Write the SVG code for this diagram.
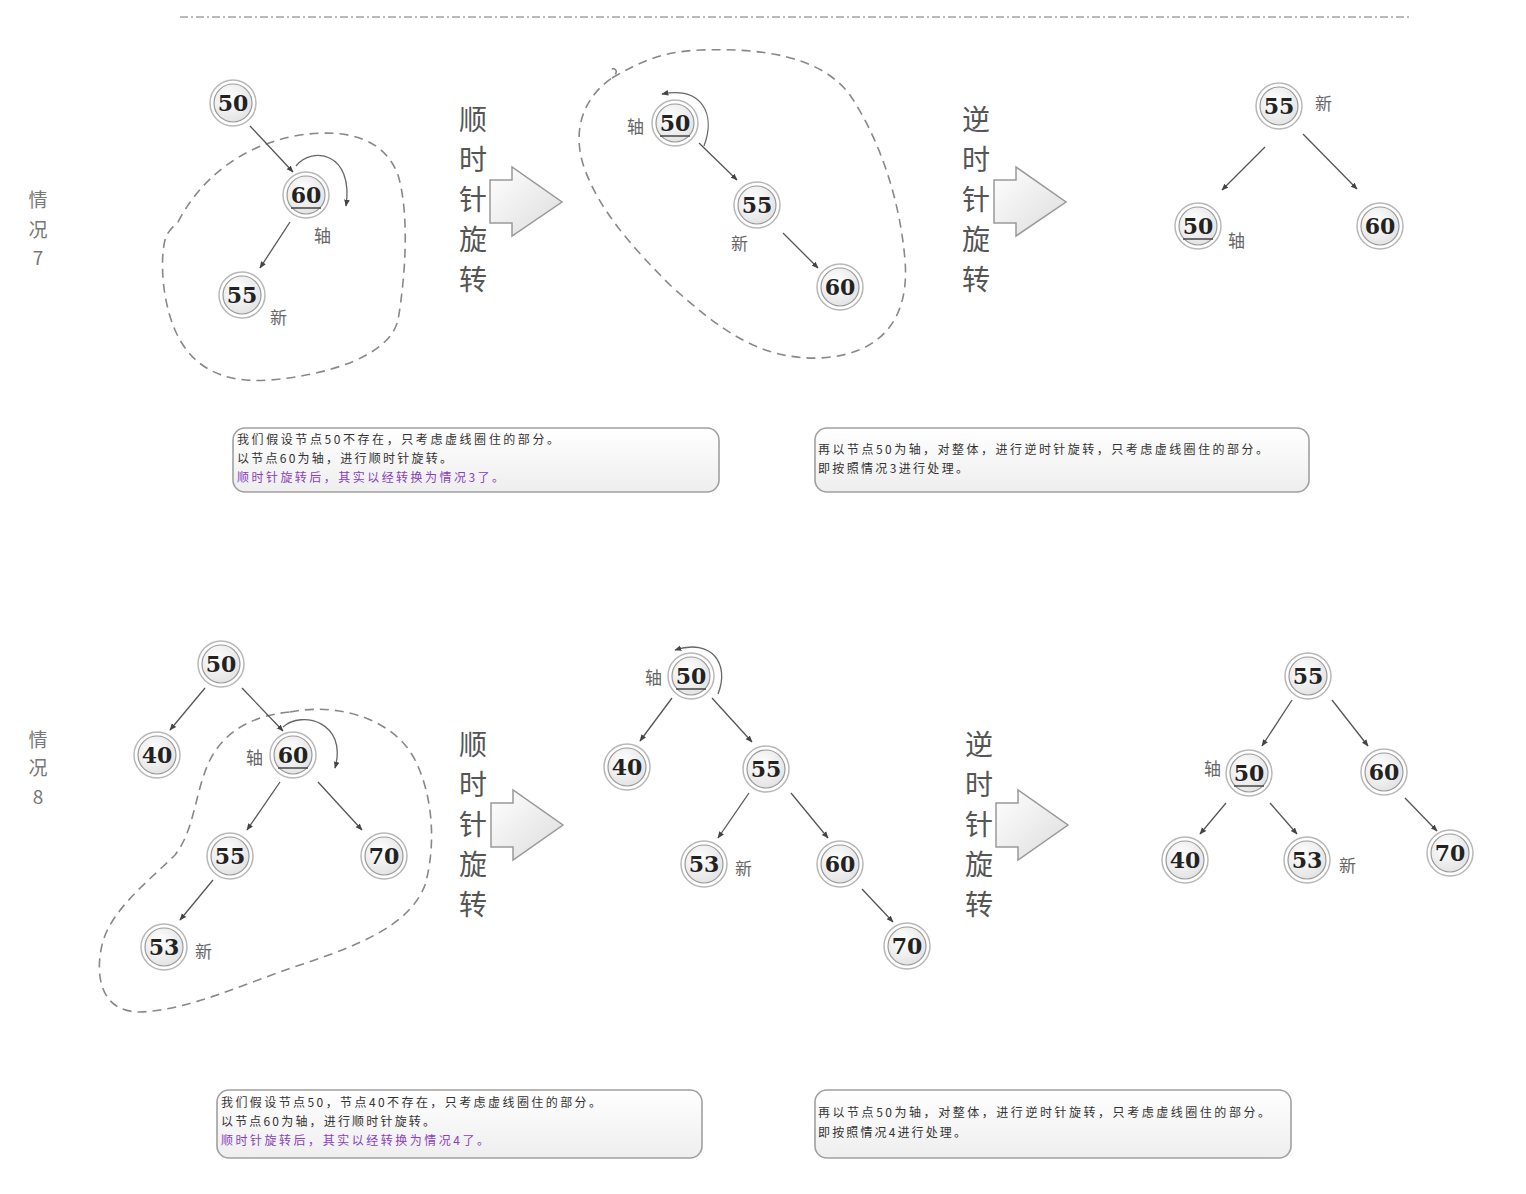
<svg xmlns="http://www.w3.org/2000/svg" width="1526" height="1194" viewBox="0 0 1526 1194">
<defs>
<radialGradient id="ng" cx="40%" cy="35%" r="70%">
<stop offset="0" stop-color="#ffffff"/>
<stop offset="1" stop-color="#e2e2e2"/>
</radialGradient>
<linearGradient id="bg" x1="0" y1="0" x2="0" y2="1">
<stop offset="0" stop-color="#ffffff"/>
<stop offset="1" stop-color="#eeeeee"/>
</linearGradient>
<linearGradient id="ag" x1="0" y1="0" x2="1" y2="1">
<stop offset="0" stop-color="#ffffff"/>
<stop offset="1" stop-color="#dcdcdc"/>
</linearGradient>
<marker id="ah" viewBox="0 0 10 10" refX="9" refY="5" markerWidth="7" markerHeight="7" orient="auto" markerUnits="userSpaceOnUse">
<path d="M0,1 L10,5 L0,9 Z" fill="#444"/>
</marker>
</defs>
<style>
.ring{fill:#fff;stroke:#b8b8b8;stroke-width:1.5}
.core{fill:url(#ng);stroke:#9a9a9a;stroke-width:1.2}
.num{font-family:"DejaVu Serif","Liberation Serif",serif;font-weight:bold;font-size:22px;fill:#222;text-anchor:middle}
.ul{stroke:#444;stroke-width:1.5}
.edge{stroke:#555;stroke-width:1.3;fill:none;marker-end:url(#ah)}
.rot{stroke:#666;stroke-width:1.3;fill:none;marker-end:url(#ah)}
.blob{fill:none;stroke:#888;stroke-width:1.6;stroke-dasharray:9 6}
.lbl{font-family:"Noto Sans CJK SC","Noto Sans",sans-serif;font-size:17px;fill:#666}
.vt{font-family:"Noto Sans CJK SC","Noto Sans",sans-serif;font-size:28px;fill:#555;text-anchor:middle}
.case{font-family:"Noto Sans CJK SC","Noto Sans",sans-serif;font-size:19px;fill:#777;text-anchor:middle}
.box{fill:url(#bg);stroke:#a0a0a0;stroke-width:1.6}
.bt{font-family:"Noto Sans CJK SC","Noto Sans",sans-serif;font-size:12px;fill:#333}
.bp{font-family:"Noto Sans CJK SC","Noto Sans",sans-serif;font-size:12px;fill:#8a3fc0}
.barrow{fill:url(#ag);stroke:#999;stroke-width:1.5}
.sep{stroke:#bbb;stroke-width:2;stroke-dasharray:8 3 2 3}
</style>

<line class="sep" x1="180" y1="17" x2="1410" y2="17"/>

<!-- case labels -->
<g id="case7-label"><text class="case" x="38" y="207">情</text><text class="case" x="38" y="237">况</text><text class="case" x="38" y="265">7</text></g>
<g id="case8-label"><text class="case" x="38" y="747">情</text><text class="case" x="38" y="775">况</text><text class="case" x="38" y="804">8</text></g>

<!-- dashed regions -->
<g id="regions">
<path class="blob" d="M178 222 C200 180 240 145 300 135 C350 128 385 140 398 175 C410 215 405 280 398 320 C390 355 330 375 270 380 C220 384 190 365 175 330 C162 300 160 260 165 240 C168 230 174 226 178 222"/>
<path class="blob" d="M612 78 C640 62 660 52 700 50 C760 48 820 55 850 95 C880 140 900 200 905 260 C910 320 880 355 820 358 C760 360 720 330 670 285 C630 245 600 210 585 170 C572 135 580 100 612 78 C620 72 615 66 610 70"/>
<path class="blob" d="M290 712 C340 702 395 720 415 760 C435 800 435 850 425 885 C410 925 360 945 300 965 C240 985 190 1010 140 1012 C100 1012 95 975 102 945 C110 910 150 880 175 855 C195 830 195 790 210 760 C225 730 255 715 290 712"/>
</g>

<!-- connectors -->
<g id="connectors">
<line class="edge" x1="250" y1="126" x2="293" y2="172"/>
<line class="edge" x1="290" y1="222" x2="260" y2="268"/>
<path class="rot" d="M296 166 C312 146 354 152 346 206"/>
<line class="edge" x1="699" y1="143" x2="737" y2="180"/>
<line class="edge" x1="783" y1="233" x2="818" y2="268"/>
<path class="rot" d="M704 146 C716 114 702 86 662 94"/>
<line class="edge" x1="1265" y1="147" x2="1222" y2="190"/>
<line class="edge" x1="1303" y1="134" x2="1357" y2="189"/>

<line class="edge" x1="205" y1="688" x2="170" y2="730"/>
<line class="edge" x1="242" y1="688" x2="283" y2="731"/>
<line class="edge" x1="280" y1="782" x2="247" y2="830"/>
<line class="edge" x1="318" y1="782" x2="362" y2="830"/>
<line class="edge" x1="213" y1="880" x2="180" y2="920"/>
<path class="rot" d="M283 727 C302 710 348 722 335 768"/>

<line class="edge" x1="672" y1="698" x2="640" y2="741"/>
<line class="edge" x1="712" y1="698" x2="752" y2="742"/>
<line class="edge" x1="749" y1="793" x2="718" y2="838"/>
<line class="edge" x1="791" y1="793" x2="828" y2="838"/>
<line class="edge" x1="862" y1="889" x2="893" y2="922"/>
<path class="rot" d="M718 694 C730 664 712 638 675 650"/>

<line class="edge" x1="1292" y1="700" x2="1262" y2="746"/>
<line class="edge" x1="1332" y1="700" x2="1368" y2="746"/>
<line class="edge" x1="1226" y1="803" x2="1200" y2="834"/>
<line class="edge" x1="1270" y1="803" x2="1297" y2="834"/>
<line class="edge" x1="1405" y1="798" x2="1437" y2="831"/>
</g>

<!-- nodes case 7 -->
<g id="n7a-50"><circle class="ring" cx="233" cy="103" r="23"/><circle class="core" cx="233" cy="103" r="19"/><text class="num" x="233" y="111">50</text></g>
<g id="n7a-60"><circle class="ring" cx="306" cy="195" r="23"/><circle class="core" cx="306" cy="195" r="19"/><text class="num" x="306" y="203">60</text><line class="ul" x1="291" y1="208" x2="321" y2="208"/><text class="lbl" x="314" y="242">轴</text></g>
<g id="n7a-55"><circle class="ring" cx="242" cy="295" r="23"/><circle class="core" cx="242" cy="295" r="19"/><text class="num" x="242" y="303">55</text><text class="lbl" x="270" y="324">新</text></g>

<g id="n7b-50"><circle class="ring" cx="675" cy="123" r="23"/><circle class="core" cx="675" cy="123" r="19"/><text class="num" x="675" y="131">50</text><line class="ul" x1="660" y1="136" x2="690" y2="136"/><text class="lbl" x="627" y="133">轴</text></g>
<g id="n7b-55"><circle class="ring" cx="757" cy="205" r="23"/><circle class="core" cx="757" cy="205" r="19"/><text class="num" x="757" y="213">55</text><text class="lbl" x="731" y="250">新</text></g>
<g id="n7b-60"><circle class="ring" cx="840" cy="287" r="23"/><circle class="core" cx="840" cy="287" r="19"/><text class="num" x="840" y="295">60</text></g>

<g id="n7c-55"><circle class="ring" cx="1279" cy="106" r="23"/><circle class="core" cx="1279" cy="106" r="19"/><text class="num" x="1279" y="114">55</text><text class="lbl" x="1315" y="110">新</text></g>
<g id="n7c-50"><circle class="ring" cx="1198" cy="226" r="23"/><circle class="core" cx="1198" cy="226" r="19"/><text class="num" x="1198" y="234">50</text><line class="ul" x1="1183" y1="239" x2="1213" y2="239"/><text class="lbl" x="1228" y="247">轴</text></g>
<g id="n7c-60"><circle class="ring" cx="1380" cy="226" r="23"/><circle class="core" cx="1380" cy="226" r="19"/><text class="num" x="1380" y="234">60</text></g>

<!-- rotation arrows case 7 -->
<g id="rot7-cw"><text class="vt" x="473" y="130">顺</text><text class="vt" x="473" y="170">时</text><text class="vt" x="473" y="210">针</text><text class="vt" x="473" y="250">旋</text><text class="vt" x="473" y="290">转</text>
<path class="barrow" d="M490 180 L512 180 L512 167 L562 202 L512 236 L512 223 L490 223 Z"/></g>
<g id="rot7-ccw"><text class="vt" x="976" y="130">逆</text><text class="vt" x="976" y="170">时</text><text class="vt" x="976" y="210">针</text><text class="vt" x="976" y="250">旋</text><text class="vt" x="976" y="290">转</text>
<path class="barrow" d="M994 180 L1016 180 L1016 167 L1066 202 L1016 236 L1016 223 L994 223 Z"/></g>

<!-- notes case 7 -->
<g id="note7a"><rect class="box" x="233" y="428" width="486" height="64" rx="12"/>
<text class="bt" x="237" y="444" textLength="322" lengthAdjust="spacing">我们假设节点50不存在，只考虑虚线圈住的部分。</text>
<text class="bt" x="237" y="463" textLength="215" lengthAdjust="spacing">以节点60为轴，进行顺时针旋转。</text>
<text class="bp" x="237" y="482" textLength="267" lengthAdjust="spacing">顺时针旋转后，其实以经转换为情况3了。</text></g>
<g id="note7b"><rect class="box" x="815" y="428" width="494" height="64" rx="12"/>
<text class="bt" x="818" y="454" textLength="450" lengthAdjust="spacing">再以节点50为轴，对整体，进行逆时针旋转，只考虑虚线圈住的部分。</text>
<text class="bt" x="818" y="473" textLength="150" lengthAdjust="spacing">即按照情况3进行处理。</text></g>

<!-- nodes case 8 -->
<g id="n8a-50"><circle class="ring" cx="221" cy="664" r="23"/><circle class="core" cx="221" cy="664" r="19"/><text class="num" x="221" y="672">50</text></g>
<g id="n8a-40"><circle class="ring" cx="157" cy="755" r="23"/><circle class="core" cx="157" cy="755" r="19"/><text class="num" x="157" y="763">40</text></g>
<g id="n8a-60"><circle class="ring" cx="293" cy="755" r="23"/><circle class="core" cx="293" cy="755" r="19"/><text class="num" x="293" y="763">60</text><line class="ul" x1="278" y1="768" x2="308" y2="768"/><text class="lbl" x="246" y="764">轴</text></g>
<g id="n8a-55"><circle class="ring" cx="230" cy="856" r="23"/><circle class="core" cx="230" cy="856" r="19"/><text class="num" x="230" y="864">55</text></g>
<g id="n8a-70"><circle class="ring" cx="384" cy="856" r="23"/><circle class="core" cx="384" cy="856" r="19"/><text class="num" x="384" y="864">70</text></g>
<g id="n8a-53"><circle class="ring" cx="164" cy="947" r="23"/><circle class="core" cx="164" cy="947" r="19"/><text class="num" x="164" y="955">53</text><text class="lbl" x="195" y="958">新</text></g>

<g id="n8b-50"><circle class="ring" cx="691" cy="676" r="23"/><circle class="core" cx="691" cy="676" r="19"/><text class="num" x="691" y="684">50</text><line class="ul" x1="676" y1="689" x2="706" y2="689"/><text class="lbl" x="645" y="684">轴</text></g>
<g id="n8b-40"><circle class="ring" cx="627" cy="767" r="23"/><circle class="core" cx="627" cy="767" r="19"/><text class="num" x="627" y="775">40</text></g>
<g id="n8b-55"><circle class="ring" cx="766" cy="769" r="23"/><circle class="core" cx="766" cy="769" r="19"/><text class="num" x="766" y="777">55</text></g>
<g id="n8b-53"><circle class="ring" cx="704" cy="864" r="23"/><circle class="core" cx="704" cy="864" r="19"/><text class="num" x="704" y="872">53</text><text class="lbl" x="735" y="875">新</text></g>
<g id="n8b-60"><circle class="ring" cx="840" cy="864" r="23"/><circle class="core" cx="840" cy="864" r="19"/><text class="num" x="840" y="872">60</text></g>
<g id="n8b-70"><circle class="ring" cx="907" cy="946" r="23"/><circle class="core" cx="907" cy="946" r="19"/><text class="num" x="907" y="954">70</text></g>

<g id="n8c-55"><circle class="ring" cx="1308" cy="676" r="23"/><circle class="core" cx="1308" cy="676" r="19"/><text class="num" x="1308" y="684">55</text></g>
<g id="n8c-50"><circle class="ring" cx="1249" cy="773" r="23"/><circle class="core" cx="1249" cy="773" r="19"/><text class="num" x="1249" y="781">50</text><line class="ul" x1="1234" y1="786" x2="1264" y2="786"/><text class="lbl" x="1204" y="775">轴</text></g>
<g id="n8c-60"><circle class="ring" cx="1384" cy="772" r="23"/><circle class="core" cx="1384" cy="772" r="19"/><text class="num" x="1384" y="780">60</text></g>
<g id="n8c-40"><circle class="ring" cx="1185" cy="860" r="23"/><circle class="core" cx="1185" cy="860" r="19"/><text class="num" x="1185" y="868">40</text></g>
<g id="n8c-53"><circle class="ring" cx="1307" cy="860" r="23"/><circle class="core" cx="1307" cy="860" r="19"/><text class="num" x="1307" y="868">53</text><text class="lbl" x="1339" y="872">新</text></g>
<g id="n8c-70"><circle class="ring" cx="1450" cy="853" r="23"/><circle class="core" cx="1450" cy="853" r="19"/><text class="num" x="1450" y="861">70</text></g>

<!-- rotation arrows case 8 -->
<g id="rot8-cw"><text class="vt" x="473" y="755">顺</text><text class="vt" x="473" y="795">时</text><text class="vt" x="473" y="835">针</text><text class="vt" x="473" y="875">旋</text><text class="vt" x="473" y="915">转</text>
<path class="barrow" d="M491 803 L513 803 L513 790 L563 825 L513 860 L513 847 L491 847 Z"/></g>
<g id="rot8-ccw"><text class="vt" x="979" y="755">逆</text><text class="vt" x="979" y="795">时</text><text class="vt" x="979" y="835">针</text><text class="vt" x="979" y="875">旋</text><text class="vt" x="979" y="915">转</text>
<path class="barrow" d="M996 803 L1018 803 L1018 790 L1068 825 L1018 860 L1018 847 L996 847 Z"/></g>

<!-- notes case 8 -->
<g id="note8a"><rect class="box" x="217" y="1090" width="485" height="68" rx="12"/>
<text class="bt" x="221" y="1107" textLength="380" lengthAdjust="spacing">我们假设节点50，节点40不存在，只考虑虚线圈住的部分。</text>
<text class="bt" x="221" y="1126" textLength="214" lengthAdjust="spacing">以节点60为轴，进行顺时针旋转。</text>
<text class="bp" x="221" y="1145" textLength="268" lengthAdjust="spacing">顺时针旋转后，其实以经转换为情况4了。</text></g>
<g id="note8b"><rect class="box" x="815" y="1090" width="476" height="68" rx="12"/>
<text class="bt" x="818" y="1117" textLength="452" lengthAdjust="spacing">再以节点50为轴，对整体，进行逆时针旋转，只考虑虚线圈住的部分。</text>
<text class="bt" x="818" y="1137" textLength="148" lengthAdjust="spacing">即按照情况4进行处理。</text></g>
</svg>
